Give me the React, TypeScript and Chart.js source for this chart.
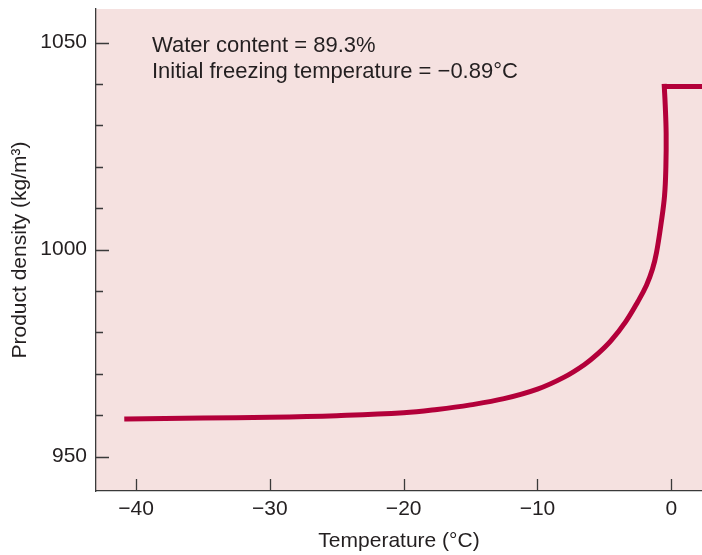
import React, { useEffect, useRef } from "react";
import { Chart, registerables } from "chart.js";

Chart.register(...registerables);

// Frozen / freezing product: temperature (°C) vs density (kg/m³)
const temperature = [
  -40.7, -35, -30, -25, -20, -17.5, -15, -12.5, -10, -8, -6.5, -5.5, -4.5,
  -3.4, -2.5, -1.85, -1.4, -1.1, -0.75, -0.5, -0.4, -0.38, -0.45, -0.52,
];
const density = [
  959.1, 959.3, 959.5, 959.9, 960.6, 961.4, 962.5, 964.0, 966.3, 969.2, 972.2,
  974.8, 978.0, 982.6, 987.4, 991.4, 995.3, 999.3, 1006.5, 1013, 1020, 1028,
  1035, 1039.4,
];
// Unfrozen product (above initial freezing point)
const unfrozenTemperature = [-0.52, 2.6];
const unfrozenDensity = [1039.4, 1039.4];

const xTickValues = [-40, -30, -20, -10, 0];
const yMajorTicks = [950, 1000, 1050];
const yMinorTicks = [960, 970, 980, 990, 1010, 1020, 1030, 1040];
const annotationLines = [
  "Water content = 89.3%",
  "Initial freezing temperature = \u22120.89\u00b0C",
];

const FONT = "'Liberation Sans', Arial, Helvetica, sans-serif";
const TEXT = "#231f20";
const AXIS = "#3a3a3a";
const LINE = "#b3003a";
const PLOT_BG = "#f5e1e0";

const fmt = (v: number) => (v < 0 ? "\u2212" + Math.abs(v) : String(v));

const decorPlugin = {
  id: "decor",
  beforeDraw(chart: any) {
    const { ctx, chartArea } = chart;
    ctx.save();
    ctx.fillStyle = PLOT_BG;
    ctx.fillRect(chartArea.left, chartArea.top, chartArea.right - chartArea.left, chartArea.bottom - chartArea.top);
    ctx.restore();
  },
  afterDraw(chart: any) {
    const { ctx, chartArea, scales } = chart;
    const xs = scales.x;
    const ys = scales.y;
    ctx.save();
    ctx.strokeStyle = AXIS;
    ctx.lineWidth = 1.3;
    ctx.beginPath();
    for (const v of xTickValues) {
      const px = Math.round(xs.getPixelForValue(v)) + 0.5;
      ctx.moveTo(px, chartArea.bottom);
      ctx.lineTo(px, chartArea.bottom - 12);
    }
    for (const v of yMajorTicks) {
      const py = Math.round(ys.getPixelForValue(v)) + 0.5;
      ctx.moveTo(chartArea.left, py);
      ctx.lineTo(chartArea.left + 13, py);
    }
    for (const v of yMinorTicks) {
      const py = Math.round(ys.getPixelForValue(v)) + 0.5;
      ctx.moveTo(chartArea.left, py);
      ctx.lineTo(chartArea.left + 7, py);
    }
    ctx.stroke();

    ctx.fillStyle = TEXT;
    ctx.font = `22px ${FONT}`;
    ctx.textAlign = "left";
    ctx.textBaseline = "alphabetic";
    annotationLines.forEach((t, i) => {
      ctx.fillText(t, chartArea.left + 56, chartArea.top + 43 + i * 26);
    });
    ctx.restore();
  },
};

export default function App() {
  const ref = useRef<HTMLCanvasElement | null>(null);

  useEffect(() => {
    if (!ref.current) return;
    const chart = new Chart(ref.current, {
      type: "scatter",
      data: {
        datasets: [
          {
            data: temperature.map((t, i) => ({ x: t, y: density[i] })),
            showLine: true,
            borderColor: LINE,
            borderWidth: 5,
            pointRadius: 0,
            tension: 0.4,
            borderCapStyle: "square",
            borderJoinStyle: "round",
          },
          {
            data: unfrozenTemperature.map((t, i) => ({ x: t, y: unfrozenDensity[i] })),
            showLine: true,
            borderColor: LINE,
            borderWidth: 5,
            pointRadius: 0,
            tension: 0,
            borderCapStyle: "butt",
          },
        ],
      },
      options: {
        responsive: false,
        animation: false,
        layout: { padding: { top: 9, right: 0, bottom: 0, left: 0 } },
        plugins: {
          legend: { display: false },
          tooltip: { enabled: false },
        },
        scales: {
          x: {
            type: "linear",
            position: "bottom",
            min: -43,
            max: 2.3,
            afterFit: (s: any) => {
              s.height = 64;
              s.paddingLeft = 0;
              s.paddingRight = 0;
            },
            grid: { display: true, drawOnChartArea: false, drawTicks: false },
            border: { display: true, color: AXIS, width: 1.3 },
            ticks: {
              stepSize: 10,
              includeBounds: false,
              padding: 6,
              color: TEXT,
              font: { family: FONT, size: 21 },
              maxRotation: 0,
              autoSkip: false,
              callback: (v: any) => (xTickValues.includes(Number(v)) ? fmt(Number(v)) : ""),
            },
            title: {
              display: true,
              text: "Temperature (\u00b0C)",
              color: TEXT,
              font: { family: FONT, size: 21 },
              padding: { top: 0, bottom: 1 },
            },
          },
          y: {
            type: "linear",
            position: "left",
            min: 941.7,
            max: 1058.1,
            afterFit: (s: any) => {
              s.width = 96;
              s.paddingTop = 0;
              s.paddingBottom = 0;
            },
            grid: { display: true, drawOnChartArea: false, drawTicks: false },
            border: { display: true, color: AXIS, width: 1.3 },
            ticks: {
              stepSize: 10,
              includeBounds: false,
              padding: 9,
              color: TEXT,
              font: { family: FONT, size: 21 },
              autoSkip: false,
              callback: (v: any) => (yMajorTicks.includes(Number(v)) ? String(v) : ""),
            },
            title: {
              display: true,
              text: "Product density (kg/m\u00b3)",
              color: TEXT,
              font: { family: FONT, size: 21 },
              padding: { top: 8, bottom: 0 },
            },
          },
        },
      },
      plugins: [decorPlugin],
    });
    return () => chart.destroy();
  }, []);

  return (
    <div style={{ position: "absolute", left: 0, top: 0, width: 702, height: 555 }}>
      <canvas ref={ref} width={702} height={555} style={{ display: "block" }} />
    </div>
  );
}
